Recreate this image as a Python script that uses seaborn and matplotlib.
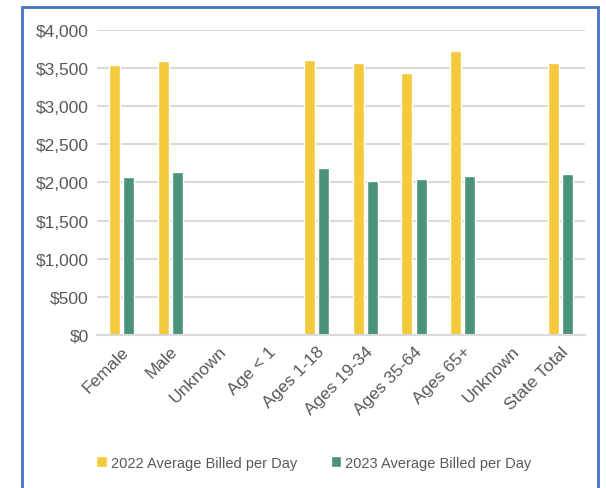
import numpy as np
import pandas as pd
import seaborn as sns
import matplotlib.pyplot as plt
from matplotlib.patches import Rectangle
from matplotlib.ticker import FuncFormatter

labels = ["Female", "Male", "Unknown", "Age < 1", "Ages 1-18", "Ages 19-34",
          "Ages 35-64", "Ages 65+", "Unknown", "State Total"]
avg_2022 = [3540, 3595, np.nan, np.nan, 3607, 3567, 3432, 3725, np.nan, 3567]
avg_2023 = [2068, 2134, np.nan, np.nan, 2186, 2016, 2042, 2081, np.nan, 2111]
series = ["2022 Average Billed per Day", "2023 Average Billed per Day"]

df = pd.DataFrame({
    "pos": list(range(len(labels))) * 2,
    "value": avg_2022 + avg_2023,
    "series": [series[0]] * len(labels) + [series[1]] * len(labels),
})

sns.set_theme(style="white")
plt.rcParams["font.family"] = ["Liberation Sans", "DejaVu Sans"]

fig = plt.figure(figsize=(6.06, 4.89), dpi=100)
ax = fig.add_axes([0.160, 0.313, 0.805, 0.624])

sns.barplot(data=df, x="pos", y="value", hue="series", hue_order=series,
            palette=["#F4CA3C", "#4A9279"], saturation=1, width=0.58, gap=0.22,
            order=list(range(len(labels))), ax=ax, legend=True)

ax.set_ylim(0, 4000)
ax.set_yticks(range(0, 4001, 500))
ax.yaxis.set_major_formatter(FuncFormatter(lambda v, p: f"${v:,.0f}"))
ax.grid(axis="y", color="#D9D9D9", linewidth=1.5)
ax.set_axisbelow(True)
ax.set_xlim(-0.5, len(labels) - 0.5)
for s in ["top", "right", "left"]:
    ax.spines[s].set_visible(False)
ax.spines["bottom"].set_color("#D9D9D9")
ax.spines["bottom"].set_linewidth(1.5)
ax.set_xlabel("")
ax.set_ylabel("")
ax.set_xticks(range(len(labels)))
ax.set_xticklabels(labels, rotation=45, ha="right", rotation_mode="anchor")
ax.tick_params(axis="both", colors="#595959", labelsize=12.5, length=0, pad=6)

handles, _ = ax.get_legend_handles_labels()
ax.legend_.remove()
fig.legend(handles, series, loc="center", bbox_to_anchor=(0.518, 0.052),
           ncol=2, frameon=False, handlelength=0.7,
           handleheight=0.7, handletextpad=0.3, columnspacing=2.3,
           labelcolor="#595959", fontsize=10.5)

fig.patches.append(Rectangle((22 / 606, -0.01), 576 / 606, 1 - 8 / 489 + 0.01,
                             transform=fig.transFigure, fill=False,
                             edgecolor="#4472C4", linewidth=2))

fig.savefig("out.png", dpi=100)
